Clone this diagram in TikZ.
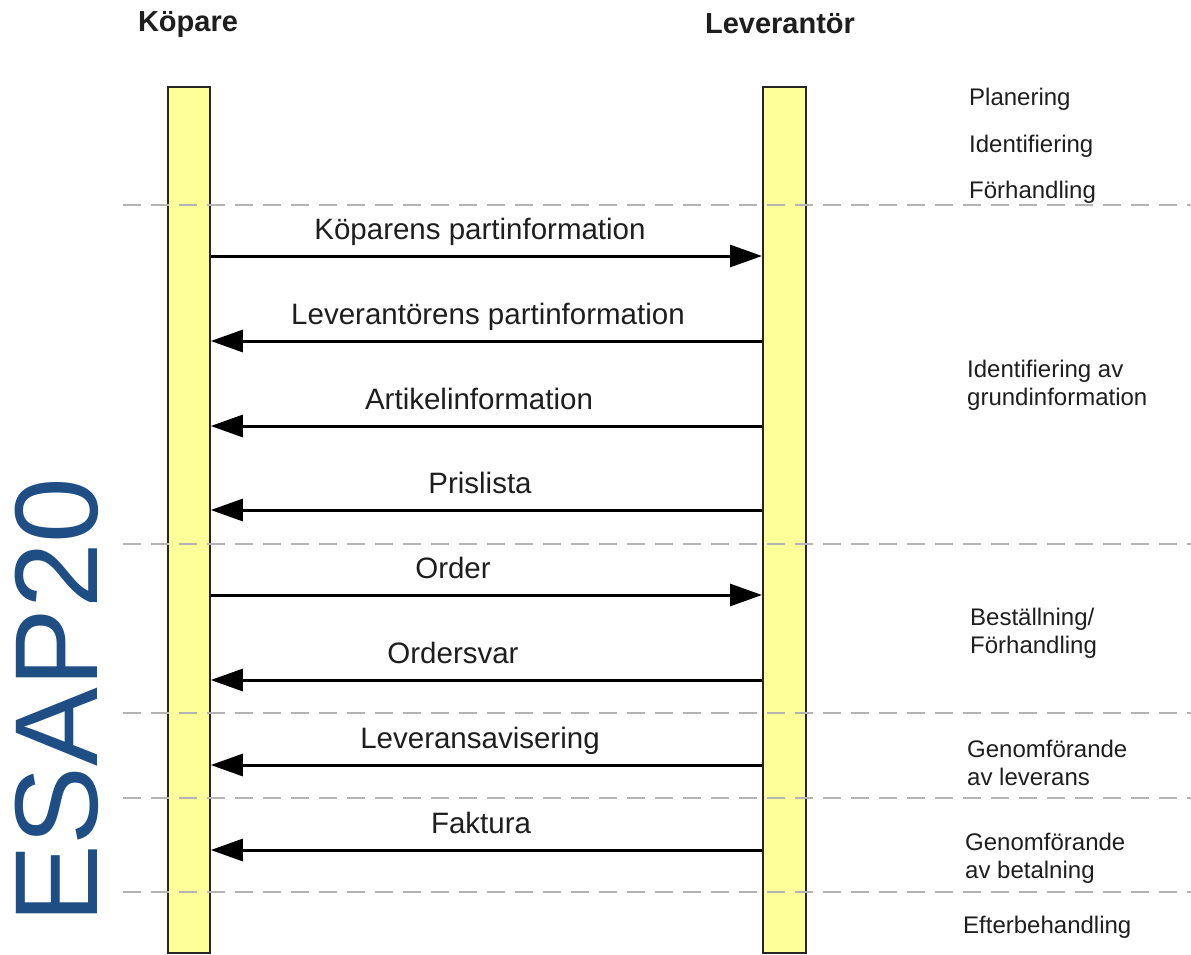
\documentclass[tikz,border=0pt]{standalone}
\usepackage{fontspec}
\setmainfont{Liberation Sans}
\usetikzlibrary{arrows.meta}
\definecolor{barfill}{RGB}{255,255,153}
\definecolor{esapblue}{RGB}{31,78,133}
\definecolor{dashgray}{RGB}{180,180,180}
\definecolor{txt}{RGB}{30,30,30}
\begin{document}
\begin{tikzpicture}[x=1pt,y=-1pt,
 lifeline/.style={draw=black!85, line width=1.8pt, fill=barfill, minimum width=42pt, minimum height=866pt, inner sep=0pt, anchor=north west},
 phase/.style={draw=dashgray, line width=2.4pt, dash pattern=on 18pt off 10pt},
 msg/.style={draw=black, line width=3pt, -{Triangle[length=32pt,width=22pt]}},
 msglabel/.style={anchor=base, inner sep=0pt, text=txt, font=\fontsize{29.5}{34}\selectfont},
 phaselabel/.style={anchor=base west, inner sep=0pt, text=txt, align=left, font=\fontsize{24}{27.5}\selectfont},
 header/.style={anchor=base, inner sep=0pt, text=txt, font=\fontsize{29}{34}\selectfont\bfseries},
]
\useasboundingbox (0,0) rectangle (1191,954);

% lifelines
\node[lifeline] (kop) at (167,86) {};
\node[lifeline, minimum width=43pt] (lev) at (762,86) {};

% headers
\node[header] (hkop) at (188,31) {Köpare};
\node[header] (hlev) at (780,33) {Leverantör};

% phase separators
\draw[phase] (123,205) -- (1191,205);
\draw[phase] (123,544) -- (1191,544);
\draw[phase] (123,713) -- (1191,713);
\draw[phase] (123,798) -- (1191,798);
\draw[phase] (123,892) -- (1191,892);

% messages
\draw[msg] (kop.east |- 0,256) -- (lev.west |- 0,256);
\draw[msg] (lev.west |- 0,341) -- (kop.east |- 0,341);
\draw[msg] (lev.west |- 0,426) -- (kop.east |- 0,426);
\draw[msg] (lev.west |- 0,510) -- (kop.east |- 0,510);
\draw[msg] (kop.east |- 0,595) -- (lev.west |- 0,595);
\draw[msg] (lev.west |- 0,680) -- (kop.east |- 0,680);
\draw[msg] (lev.west |- 0,765) -- (kop.east |- 0,765);
\draw[msg] (lev.west |- 0,850) -- (kop.east |- 0,850);

% message labels
\node[msglabel] (m1) at (480,239) {Köparens partinformation};
\node[msglabel] (m2) at (488,324) {Leverantörens partinformation};
\node[msglabel] (m3) at (479,409) {Artikelinformation};
\node[msglabel] (m4) at (480,493) {Prislista};
\node[msglabel] (m5) at (453,578) {Order};
\node[msglabel] (m6) at (453,663) {Ordersvar};
\node[msglabel] (m7) at (480,748) {Leveransavisering};
\node[msglabel] (m8) at (481,833) {Faktura};

% phase labels (base anchor = last line's baseline)
\node[phaselabel] (p1) at (969,105) {Planering};
\node[phaselabel] (p2) at (969,152) {Identifiering};
\node[phaselabel] (p3) at (969,198) {Förhandling};
\node[phaselabel] (p4) at (967,405) {Identifiering av\\grundinformation};
\node[phaselabel] (p5) at (970,653) {Beställning/\\Förhandling};
\node[phaselabel] (p6) at (967,785) {Genomförande\\av leverans};
\node[phaselabel] (p7) at (965,878) {Genomförande\\av betalning};
\node[phaselabel] (p8) at (963,933) {Efterbehandling};

% title
\node[rotate=90, anchor=base west, inner sep=0pt, text=esapblue, font=\fontsize{118}{120}\selectfont] (esap) at (97,924) {ESAP20};
\end{tikzpicture}
\end{document}
